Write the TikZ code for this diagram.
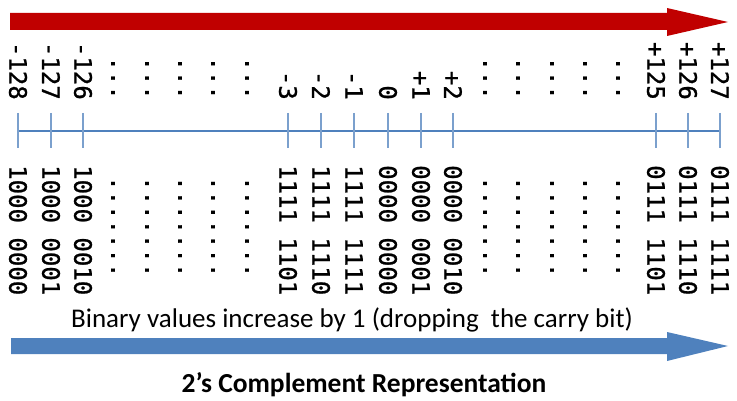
\documentclass[tikz,border=0pt]{standalone}
\usepackage{fontspec}
\setmainfont{Carlito}
\newfontfamily\monofont[FakeBold=1]{DejaVu Sans Mono}
\definecolor{arrowred}{HTML}{C00000}
\definecolor{arrowblue}{HTML}{4F81BD}
\definecolor{axisblue}{HTML}{4F81BD}
\definecolor{tickblue}{HTML}{7BA0CD}
\tikzset{
  value/.style={rotate=-90, anchor=east, inner sep=0pt, font=\monofont\fontsize{24}{24}\selectfont},
  code/.style={rotate=-90, anchor=west, inner sep=0pt, font=\monofont\fontsize{24}{24}\selectfont},
  axis/.style={draw=axisblue, line width=2.6pt},
  tick/.style={draw=tickblue, line width=1.4pt},
  caption/.style={font=\fontsize{27}{30}\selectfont, inner sep=0pt, anchor=base},
}
\begin{document}
\begin{tikzpicture}[x=1pt, y=-1pt]
  \useasboundingbox (0,0) rectangle (737,401);
  % red direction arrow over the signed values
  \fill[arrowred] (10,13) -- (667,13) -- (667,8) -- (728,22) -- (667,36) -- (667,30) -- (10,30) -- cycle;
  % number line
  \coordinate (lineL) at (18,131);
  \coordinate (lineR) at (720,131);
  \draw[axis] (lineL) -- (lineR);
  % ticks with signed value above and bit pattern below
  \foreach \x/\v/\b [count=\i] in {
      18/-128/1000 0000, 51/-127/1000 0001, 83/-126/1000 0010,
      288/-3/1111 1101, 321/-2/1111 1110, 354/-1/1111 1111,
      388/0/0000 0000, 421/+1/0000 0001, 453/+2/0000 0010,
      656/+125/0111 1101, 688/+126/0111 1110, 720/+127/0111 1111} {
    \coordinate (t\i) at (\x,113);
    \coordinate (b\i) at (\x,148);
    \draw[tick] (t\i) -- (b\i);
    \node[value] (v\i) at (\x,100) {\v};
    \node[code] (c\i) at (\x,165) {\b};
  }
  % elided columns
  \foreach \x [count=\i] in {113,147,180,213,247,485,518,552,585,618} {
    \node[value] (vd\i) at (\x,100) {...};
    \node[code] (cd\i) at (\x,176) {.......};
  }
  % blue direction arrow under the bit patterns
  \node[caption] (note) at (352,327) {Binary values increase by 1 (dropping\ \ the carry bit)};
  \fill[arrowblue] (11,338) -- (667,338) -- (667,332) -- (728,346) -- (667,361) -- (667,354) -- (11,354) -- cycle;
  \node[caption, font=\bfseries\fontsize{27.5}{30}\selectfont] (title) at (364,392) {2’s Complement Representation};
\end{tikzpicture}
\end{document}
